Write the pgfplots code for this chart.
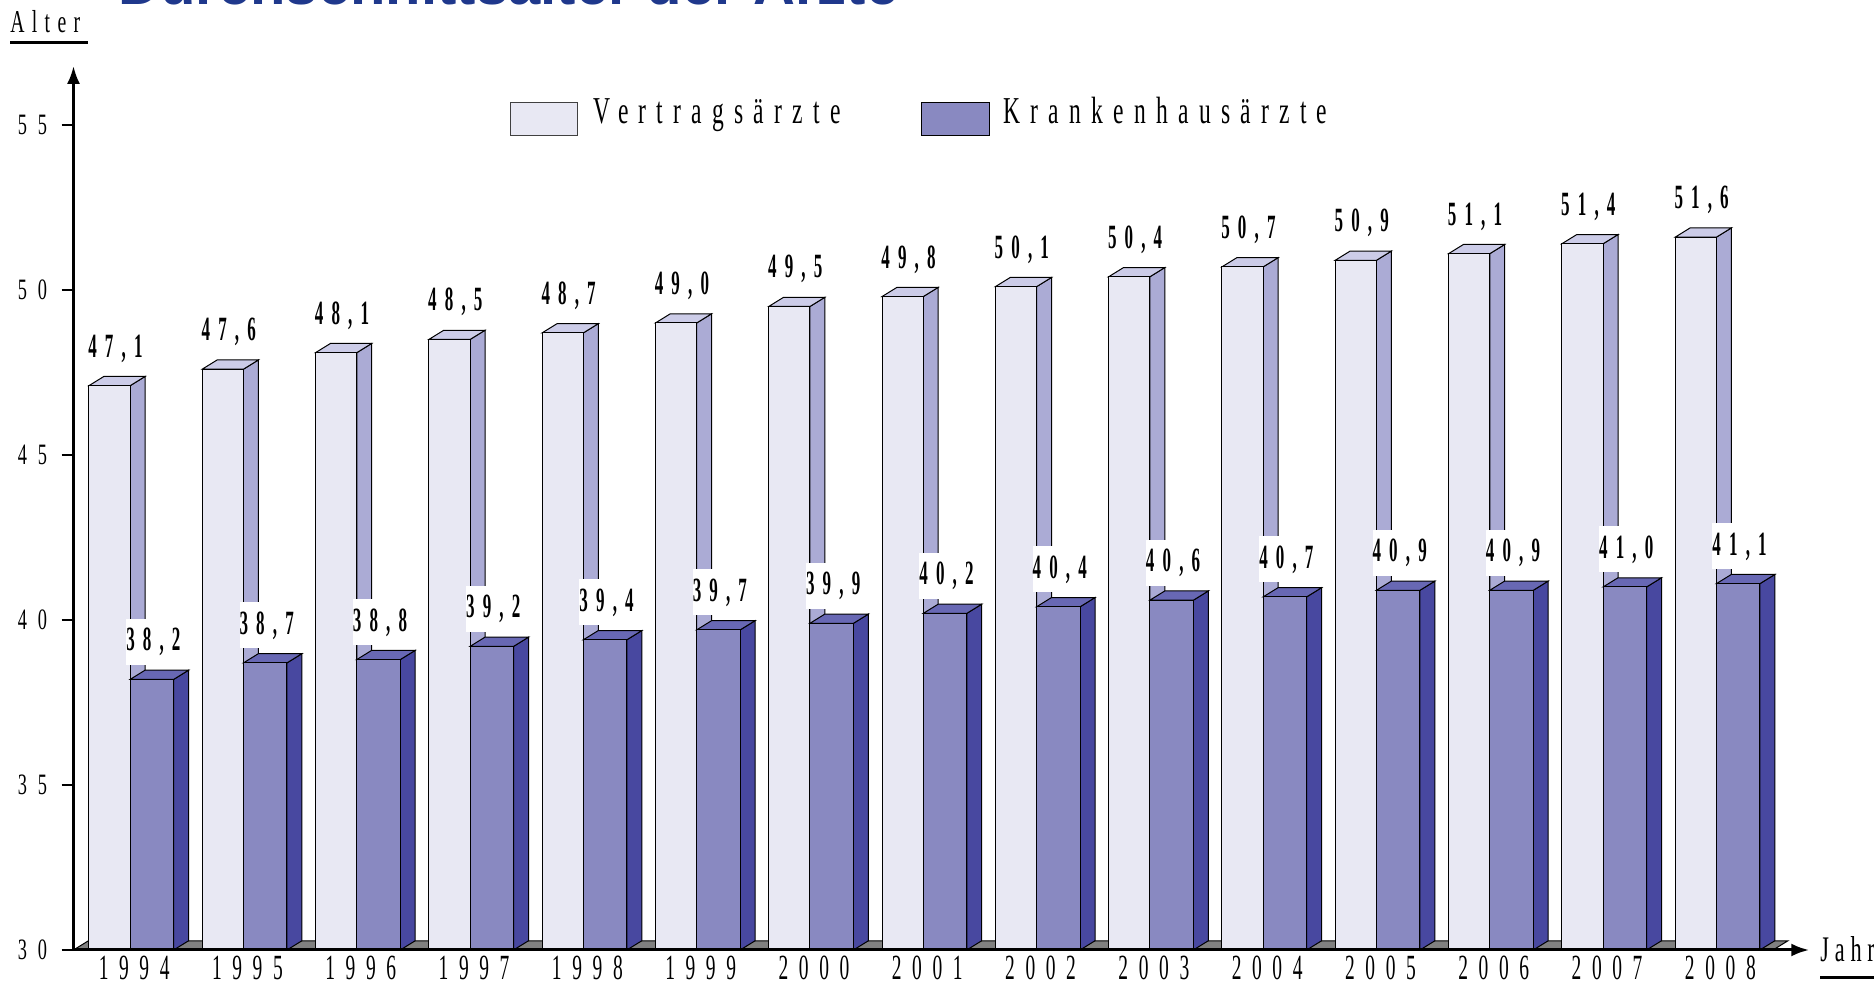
\documentclass[border=0pt]{standalone}
\usepackage{fontspec}
\setmainfont{Liberation Serif}[FakeStretch=0.62]
\newfontfamily\lblfamily{Liberation Serif}[FakeStretch=0.5,LetterSpace=24]
\newfontfamily\tickfamily{Liberation Serif}[FakeStretch=0.55,LetterSpace=30]
\newfontfamily\titlefamily{Liberation Sans}
\usepackage{pgfplots}
\usepackage{pgfplotstable}
\pgfplotsset{compat=1.18}
\usetikzlibrary{arrows.meta}

\definecolor{lfront}{RGB}{232,232,243}
\definecolor{ltop}{RGB}{204,204,232}
\definecolor{lside}{RGB}{171,171,213}
\definecolor{dfront}{RGB}{137,137,193}
\definecolor{dtop}{RGB}{104,104,180}
\definecolor{dside}{RGB}{72,72,160}
\definecolor{floorc}{RGB}{128,128,128}
\definecolor{titleblue}{RGB}{31,56,140}

\pgfplotstableread{
x v k
0 47.1 38.2
1 47.6 38.7
2 48.1 38.8
3 48.5 39.2
4 48.7 39.4
5 49.0 39.7
6 49.5 39.9
7 49.8 40.2
8 50.1 40.4
9 50.4 40.6
10 50.7 40.7
11 50.9 40.9
12 51.1 40.9
13 51.4 41.0
14 51.6 41.1
}\datatable

\newcommand\xtfont{\tickfamily\fontsize{17.7pt}{20pt}\selectfont}
\newcommand\ytfont{\addfontfeatures{LetterSpace=37}\fontsize{14.8pt}{17pt}\selectfont}
\newcommand\lgfont{\addfontfeatures{LetterSpace=27}\fontsize{19pt}{22pt}\selectfont}
\newcommand\atfont{\addfontfeatures{LetterSpace=23}\fontsize{15.9pt}{18pt}\selectfont}
\newcommand\jfont{\addfontfeatures{LetterSpace=16}\fontsize{18pt}{20pt}\selectfont}
\newcommand\lblfont{\lblfamily\bfseries\fontsize{17pt}{20pt}\selectfont}

\begin{document}
\begin{tikzpicture}
\useasboundingbox (0pt,0pt) rectangle (937pt,492pt);
\begin{axis}[
  at={(36.75pt,17pt)}, anchor=south west,
  x=56.65pt, y=16.5pt,
  xmin=-0.5, xmax=14.82, ymin=30, ymax=56.79,
  axis lines=left,
  axis line style={line width=1.5pt,-{Latex[length=9pt,width=6.5pt]}},
  xtick={0,...,14},
  xticklabels={1994,1995,1996,1997,1998,1999,2000,2001,2002,2003,2004,2005,2006,2007,2008},
  major x tick style={draw=none},
  ytick={30,35,40,45,50,55},
  yticklabels={30,35,40,45,50,55},
  tick align=outside,
  major tick length=6pt,
  major y tick style={line width=1pt,black},
  xticklabel style={font=\xtfont, inner sep=0pt, anchor=north, yshift=3pt, xshift=2pt},
  yticklabel style={font=\ytfont, inner sep=0pt, anchor=east, xshift=-7pt},
  axis on top,
  every axis plot/.append style={line join=miter},
]
% floor
\addplot[forget plot,fill=floorc,draw=black,line width=0.5pt,mark=none]
  coordinates {(-0.5,30) (14.5,30) (14.632,30.28) (-0.368,30.28)} -- cycle;
% light 3D faces
\pgfplotsforeachungrouped \i in {0,...,14}{%
  \pgfplotstablegetelem{\i}{v}\of\datatable
  \let\val\pgfplotsretval
  \pgfmathsetmacro\xa{\i-0.364}%
  \pgfmathsetmacro\xb{\i}%
  \pgfmathsetmacro\xc{\i+0.132}%
  \pgfmathsetmacro\xd{\i-0.232}%
  \pgfmathsetmacro\vt{\val+0.28}%
  \edef\cmd{\noexpand\addplot[forget plot,fill=lside,draw=black,line width=0.5pt,mark=none] coordinates {(\xb,30) (\xc,30.28) (\xc,\vt) (\xb,\val)} -- cycle;
    \noexpand\addplot[forget plot,fill=ltop,draw=black,line width=0.5pt,mark=none] coordinates {(\xa,\val) (\xb,\val) (\xc,\vt) (\xd,\vt)} -- cycle;}%
  \cmd
}
% light fronts
\addplot[ybar,forget plot,bar width=0.364,bar shift=-0.182,fill=lfront,draw=black,line width=0.5pt]
  table[x=x,y=v]{\datatable};
% dark 3D faces
\pgfplotsforeachungrouped \i in {0,...,14}{%
  \pgfplotstablegetelem{\i}{k}\of\datatable
  \let\val\pgfplotsretval
  \pgfmathsetmacro\xa{\i}%
  \pgfmathsetmacro\xb{\i+0.384}%
  \pgfmathsetmacro\xc{\i+0.516}%
  \pgfmathsetmacro\xd{\i+0.132}%
  \pgfmathsetmacro\vt{\val+0.28}%
  \edef\cmd{\noexpand\addplot[forget plot,fill=dside,draw=black,line width=0.5pt,mark=none] coordinates {(\xb,30) (\xc,30.28) (\xc,\vt) (\xb,\val)} -- cycle;
    \noexpand\addplot[forget plot,fill=dtop,draw=black,line width=0.5pt,mark=none] coordinates {(\xa,\val) (\xb,\val) (\xc,\vt) (\xd,\vt)} -- cycle;}%
  \cmd
}
% dark fronts
\addplot[ybar,forget plot,bar width=0.384,bar shift=0.192,fill=dfront,draw=black,line width=0.5pt]
  table[x=x,y=k]{\datatable};
% labels
\addplot[forget plot,draw=none,mark=none,
  nodes near coords={\pgfmathprintnumber[fixed,fixed zerofill,precision=1,use comma,assume math mode=true]{\pgfplotspointmeta}},
  every node near coord/.append style={font=\lblfont,anchor=base,yshift=14.25pt,inner xsep=0pt,inner ysep=0pt,fill=white,text height=16pt,text depth=7pt}]
  table[x expr=\thisrow{x}-0.13,y=v]{\datatable};
\addplot[forget plot,draw=none,mark=none,
  nodes near coords={\pgfmathprintnumber[fixed,fixed zerofill,precision=1,use comma,assume math mode=true]{\pgfplotspointmeta}},
  every node near coord/.append style={font=\lblfont,anchor=base,yshift=14.25pt,inner xsep=0pt,inner ysep=0pt,fill=white,text height=16pt,text depth=7pt}]
  table[x expr=\thisrow{x}+0.205,y=k]{\datatable};
\end{axis}
\begin{scope}[x=0.5pt,y=-0.5pt,shift={(0pt,492pt)}]
 \draw[fill=lfront,draw=black!75,line width=0.5pt] (510,103) rectangle (577,136);
 \node[anchor=base west,inner sep=0pt,font=\lgfont] at (593,124) {Vertragsärzte};
 \draw[fill=dfront,draw=black,line width=0.5pt] (921,103) rectangle (989,136);
 \node[anchor=base west,inner sep=0pt,font=\lgfont] at (1003,124) {Krankenhausärzte};
 \node[anchor=base west,inner sep=0pt,font=\atfont] at (10,33) {Alter};
 \draw[line width=1.5pt] (10,43) -- (88,43);
 \node[anchor=base west,inner sep=0pt,font=\jfont] at (1820,962) {Jahr};
 \draw[line width=1.5pt] (1820,978) -- (1880,978);
 \node[overlay,anchor=base west,inner sep=0pt,text=titleblue,font=\titlefamily\bfseries\fontsize{29pt}{34pt}\selectfont] at (118,5) {Durchschnittsalter der Ärzte};
\end{scope}
\end{tikzpicture}
\end{document}
